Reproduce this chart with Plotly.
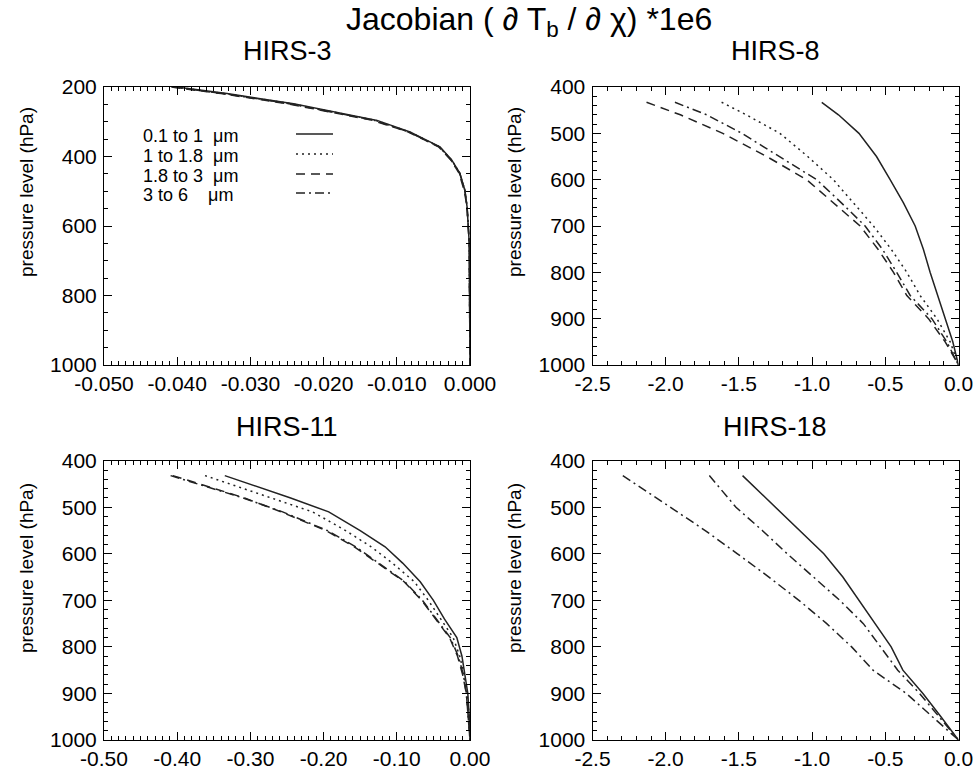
import plotly.graph_objects as go

W, H = 978, 774

# ---------------- data ----------------
series_names = ["0.1 to 1  μm", "1 to 1.8  μm", "1.8 to 3  μm", "3 to 6    μm"]

# HIRS-3
h3_p = [200, 219, 248, 296, 329, 353, 372, 410, 448, 497, 545, 650, 1000]
h3_solid = [-0.0401, -0.0332, -0.0241, -0.0127, -0.0082, -0.0059, -0.0041, -0.0025, -0.0014, -0.0007, -0.0004, -0.0001, 0.0]
h3_dot = [-0.0403, -0.0335, -0.0244, -0.0129, -0.0083, -0.0060, -0.0042, -0.0025, -0.0014, -0.0007, -0.0004, -0.0001, 0.0]
h3_dash = [-0.0408, -0.0340, -0.0250, -0.0133, -0.0085, -0.0061, -0.0043, -0.0026, -0.0015, -0.0008, -0.0004, -0.0001, 0.0]
h3_dashdot = [-0.0405, -0.0337, -0.0247, -0.0131, -0.0084, -0.0060, -0.0042, -0.0026, -0.0014, -0.0007, -0.0004, -0.0001, 0.0]

# HIRS-8
h8_p = [433, 460, 500, 550, 600, 650, 700, 750, 800, 850, 900, 950, 1000]
h8_solid = [-0.934, -0.82, -0.68, -0.56, -0.467, -0.376, -0.296, -0.24, -0.194, -0.144, -0.091, -0.039, 0.0]
h8_dot = [-1.618, -1.45, -1.22, -1.03, -0.855, -0.715, -0.581, -0.46, -0.353, -0.262, -0.148, -0.057, 0.0]
h8_dash = [-2.131, -1.90, -1.61, -1.31, -1.037, -0.855, -0.672, -0.55, -0.444, -0.353, -0.205, -0.091, 0.0]
h8_dashdot = [-1.937, -1.72, -1.48, -1.22, -0.969, -0.80, -0.638, -0.52, -0.422, -0.330, -0.182, -0.080, 0.0]

# HIRS-11
h11_p = [432, 480, 510, 550, 585, 620, 660, 700, 740, 780, 820, 860, 900, 950, 1000]
h11_solid = [-0.335, -0.245, -0.193, -0.150, -0.116, -0.092, -0.068, -0.050, -0.035, -0.018, -0.011, -0.007, -0.003, -0.001, 0.0]
h11_dot = [-0.362, -0.270, -0.215, -0.170, -0.135, -0.106, -0.076, -0.057, -0.040, -0.023, -0.014, -0.008, -0.004, -0.001, 0.0]
h11_dash = [-0.406, -0.308, -0.258, -0.197, -0.158, -0.127, -0.090, -0.066, -0.047, -0.028, -0.017, -0.010, -0.005, -0.002, 0.0]
h11_dashdot = [-0.409, -0.310, -0.256, -0.195, -0.156, -0.125, -0.089, -0.065, -0.046, -0.027, -0.016, -0.009, -0.005, -0.002, 0.0]

# HIRS-18
h18_p = [432, 500, 550, 600, 650, 700, 750, 800, 850, 900, 950, 1000]
h18_solid = [-1.475, -1.25, -1.09, -0.92, -0.79, -0.68, -0.57, -0.46, -0.38, -0.243, -0.12, 0.0]
h18_inner = [-1.702, -1.52, -1.34, -1.17, -0.99, -0.811, -0.65, -0.53, -0.415, -0.266, -0.130, 0.0]
h18_outer = [-2.293, -1.97, -1.73, -1.51, -1.295, -1.09, -0.90, -0.73, -0.584, -0.357, -0.175, 0.0]

# tick labels
h3_xticks = [-0.05, -0.04, -0.03, -0.02, -0.01, 0.0]
h3_xlabels = ["-0.050", "-0.040", "-0.030", "-0.020", "-0.010", "0.000"]
h8_xticks = [-2.5, -2.0, -1.5, -1.0, -0.5, 0.0]
h8_xlabels = ["-2.5", "-2.0", "-1.5", "-1.0", "-0.5", "0.0"]
h11_xticks = [-0.5, -0.4, -0.3, -0.2, -0.1, 0.0]
h11_xlabels = ["-0.50", "-0.40", "-0.30", "-0.20", "-0.10", "0.00"]
h3_yticks = [200, 400, 600, 800, 1000]
hx_yticks = [400, 500, 600, 700, 800, 900, 1000]

# ---------------- styling ----------------
FONT = "Liberation Sans"
LC = "#222222"
LW = 1.5
DASH = {"solid": "solid", "dot": "2px,4px", "dash": "9px,6px", "dashdot": "9px,4px,2px,4px"}
TICKSIZE = 21


def px2x(px):
    return px / W


def px2y(py):
    return 1 - py / H


col_dom = [[px2x(104), px2x(470)], [px2x(592.5), px2x(958.5)]]
row_dom = [[px2y(365), px2y(87)], [px2y(740), px2y(460.7)]]

fig = go.Figure()


def add(xs, ys, style, name, idx):
    fig.add_trace(go.Scatter(
        x=xs, y=ys, mode="lines", name=name, showlegend=False,
        line=dict(color=LC, width=LW, dash=DASH[style]),
        xaxis="x" if idx == 1 else f"x{idx}", yaxis="y" if idx == 1 else f"y{idx}"))


for xs, st, nm in [(h3_solid, "solid", series_names[0]), (h3_dot, "dot", series_names[1]),
                   (h3_dash, "dash", series_names[2]), (h3_dashdot, "dashdot", series_names[3])]:
    add(xs, h3_p, st, nm, 1)
for xs, st, nm in [(h8_solid, "solid", series_names[0]), (h8_dot, "dot", series_names[1]),
                   (h8_dash, "dash", series_names[2]), (h8_dashdot, "dashdot", series_names[3])]:
    add(xs, h8_p, st, nm, 2)
for xs, st, nm in [(h11_solid, "solid", series_names[0]), (h11_dot, "dot", series_names[1]),
                   (h11_dash, "dash", series_names[2]), (h11_dashdot, "dashdot", series_names[3])]:
    add(xs, h11_p, st, nm, 3)
for xs, st, nm in [(h18_solid, "solid", series_names[0]), (h18_inner, "dashdot", series_names[2]),
                   (h18_outer, "dashdot", series_names[3])]:
    add(xs, h18_p, st, nm, 4)


def common_axis():
    return dict(ticks="inside", ticklen=8, tickwidth=1, tickcolor="black",
                showline=True, linecolor="black", linewidth=1, mirror="allticks",
                showgrid=False, zeroline=False, automargin=False,
                tickfont=dict(family=FONT, size=TICKSIZE, color="black"))


def xax(dom, rng, ticks, labels, minor, anchor):
    d = common_axis()
    d.update(domain=dom, range=rng, tickmode="array", tickvals=ticks, ticktext=labels, anchor=anchor,
             minor=dict(ticks="inside", ticklen=4, dtick=minor, tickcolor="black", tickwidth=1))
    return d


def yax(dom, rng, ticks, minor, anchor):
    d = common_axis()
    d.update(domain=dom, range=rng, tickmode="array", tickvals=ticks, ticktext=[str(t) for t in ticks],
             anchor=anchor, ticklabelstandoff=2,
             minor=dict(ticks="inside", ticklen=4, dtick=minor, tickcolor="black", tickwidth=1))
    return d


fig.update_layout(
    width=W, height=H, margin=dict(l=0, r=0, t=0, b=0, autoexpand=False),
    paper_bgcolor="white", plot_bgcolor="white",
    font=dict(family=FONT, color="black"),
    xaxis=xax(col_dom[0], [-0.05, 0.0], h3_xticks, h3_xlabels, 0.001, "y"),
    yaxis=yax(row_dom[0], [1000, 200], h3_yticks, 50, "x"),
    xaxis2=xax(col_dom[1], [-2.5, 0.0], h8_xticks, h8_xlabels, 0.1, "y2"),
    yaxis2=yax(row_dom[0], [1000, 400], hx_yticks, 20, "x2"),
    xaxis3=xax(col_dom[0], [-0.5, 0.0], h11_xticks, h11_xlabels, 0.01, "y3"),
    yaxis3=yax(row_dom[1], [1000, 400], hx_yticks, 20, "x3"),
    xaxis4=xax(col_dom[1], [-2.5, 0.0], h8_xticks, h8_xlabels, 0.1, "y4"),
    yaxis4=yax(row_dom[1], [1000, 400], hx_yticks, 20, "x4"),
)

ann = []
ann.append(dict(text="Jacobian ( ∂ T<sub>b</sub> / ∂ χ) *1e6", x=px2x(529), y=px2y(22),
                xref="paper", yref="paper", showarrow=False, xanchor="center", yanchor="middle",
                font=dict(family=FONT, size=32, color="black")))
for t, cx, cy in [("HIRS-3", 287, 51), ("HIRS-8", 775, 51), ("HIRS-11", 287, 427), ("HIRS-18", 775, 427)]:
    ann.append(dict(text=t, x=px2x(cx), y=px2y(cy), xref="paper", yref="paper", showarrow=False,
                    xanchor="center", yanchor="middle", font=dict(family=FONT, size=27, color="black")))
for cx, cy in [(26, 192), (514, 192), (26, 568), (514, 568)]:
    ann.append(dict(text="pressure level (hPa)", x=px2x(cx), y=px2y(cy), xref="paper", yref="paper",
                    showarrow=False, textangle=-90, xanchor="center", yanchor="middle",
                    font=dict(family=FONT, size=19, color="black")))

shapes = []
leg_y = [136, 156, 176, 195]
leg_styles = ["solid", "dot", "dash", "dashdot"]
for nm, ly, st in zip(series_names, leg_y, leg_styles):
    ann.append(dict(text=nm, x=px2x(141), y=px2y(ly), xref="paper", yref="paper", showarrow=False,
                    xanchor="left", yanchor="middle", font=dict(family=FONT, size=18, color="black")))
    shapes.append(dict(type="line", xref="paper", yref="paper", x0=px2x(296), x1=px2x(333),
                       y0=px2y(ly - 2), y1=px2y(ly - 2), line=dict(color=LC, width=LW, dash=DASH[st])))

fig.update_layout(annotations=ann, shapes=shapes)
fig.write_html("out.html", config={"displayModeBar": False},
               post_script="document.body.style.margin='0';document.body.style.overflow='hidden';")
